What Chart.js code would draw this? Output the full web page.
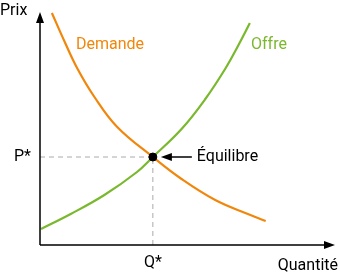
<!DOCTYPE html>
<html>
<head>
<meta charset="utf-8">
<script src="https://cdn.jsdelivr.net/npm/chart.js@4/dist/chart.umd.min.js"></script>
<style>
  html, body { margin: 0; padding: 0; background: #fff; }
  #wrap { width: 340px; height: 274px; position: relative; }
</style>
</head>
<body>
<div id="wrap"><canvas id="chart"></canvas></div>
<script>
// demand / supply curves (quantity, price)
const demandQ = [12, 25, 38, 55, 78, 114, 143, 177, 210, 228];
const demandP = [232, 203, 176, 148, 118, 88, 66, 45, 31, 24];
const supplyQ = [1, 31, 65, 98, 114, 143, 167, 187, 200, 212];
const supplyP = [16, 31, 50, 73, 88, 116, 146, 176, 199, 222];
const equilibrium = [114, 88]; // Q*, P*
const axisMax = [298, 233];

const orange = '#f0870c';
const green = '#7ab82e';

const toPts = (xs, ys) => xs.map((x, i) => ({ x: x, y: ys[i] }));

// axes, arrows and text labels
const decor = {
  id: 'decor',
  afterDatasetsDraw(chart) {
    const c = chart.ctx, xs = chart.scales.x, ys = chart.scales.y;
    const x0 = xs.getPixelForValue(0), y0 = ys.getPixelForValue(0);
    const x1 = xs.getPixelForValue(axisMax[0]), y1 = ys.getPixelForValue(axisMax[1]);
    c.save();
    c.strokeStyle = '#000'; c.fillStyle = '#000'; c.lineWidth = 1.5;
    c.beginPath();
    c.moveTo(x0, y0); c.lineTo(x0, y1 + 6);
    c.moveTo(x0, y0); c.lineTo(x1 - 6, y0);
    c.stroke();
    c.beginPath();
    c.moveTo(x0, y1); c.lineTo(x0 - 4, y1 + 11); c.lineTo(x0 + 4, y1 + 11); c.closePath();
    c.moveTo(x1, y0); c.lineTo(x1 - 11, y0 - 4); c.lineTo(x1 - 11, y0 + 4); c.closePath();
    c.fill();

    const ex = xs.getPixelForValue(equilibrium[0]), ey = ys.getPixelForValue(equilibrium[1]);
    // arrow pointing to equilibrium
    c.lineWidth = 1.5;
    c.beginPath(); c.moveTo(ex + 18, ey); c.lineTo(ex + 39, ey); c.stroke();
    c.beginPath();
    c.moveTo(ex + 8, ey); c.lineTo(ex + 19, ey - 4); c.lineTo(ex + 19, ey + 4); c.closePath();
    c.fill();

    c.font = '16px Roboto';
    c.textBaseline = 'middle';
    c.textAlign = 'left';
    c.fillText('Équilibre', ex + 44, ey);
    c.fillText('Prix', 0, 11);
    c.textAlign = 'right';
    c.fillText('P*', 31, ey);
    c.fillText('Quantité', 338, 266);
    c.textAlign = 'center';
    c.fillText('Q*', ex, 263);

    c.textAlign = 'left';
    c.fillStyle = orange;
    c.fillText('Demande', 76, 45);
    c.fillStyle = green;
    c.fillText('Offre', 251, 45);
    c.restore();
  }
};

new Chart(document.getElementById('chart'), {
  type: 'scatter',
  data: {
    datasets: [
      {
        data: [{ x: equilibrium[0], y: equilibrium[1] }],
        pointRadius: 4, pointBackgroundColor: '#000', pointBorderColor: '#000'
      },
      {
        label: 'Demande',
        data: toPts(demandQ, demandP),
        showLine: true, borderColor: orange, borderWidth: 2.2,
        tension: 0.4, pointRadius: 0
      },
      {
        label: 'Offre',
        data: toPts(supplyQ, supplyP),
        showLine: true, borderColor: green, borderWidth: 2.2,
        tension: 0.4, pointRadius: 0
      },
      {
        data: [{ x: 0, y: equilibrium[1] }, { x: equilibrium[0], y: equilibrium[1] }],
        showLine: true, borderColor: '#aaaaaa', borderWidth: 1, borderDash: [5, 4],
        pointRadius: 0
      },
      {
        data: [{ x: equilibrium[0], y: 0 }, { x: equilibrium[0], y: equilibrium[1] }],
        showLine: true, borderColor: '#aaaaaa', borderWidth: 1, borderDash: [5, 4],
        pointRadius: 0
      }
    ]
  },
  options: {
    responsive: true,
    maintainAspectRatio: false,
    animation: false,
    layout: { padding: { left: 40, right: 2, top: 12, bottom: 29 } },
    plugins: { legend: { display: false }, tooltip: { enabled: false } },
    scales: {
      x: { type: 'linear', min: 0, max: axisMax[0], display: false },
      y: { type: 'linear', min: 0, max: axisMax[1], display: false }
    }
  },
  plugins: [decor]
});
</script>
</body>
</html>
